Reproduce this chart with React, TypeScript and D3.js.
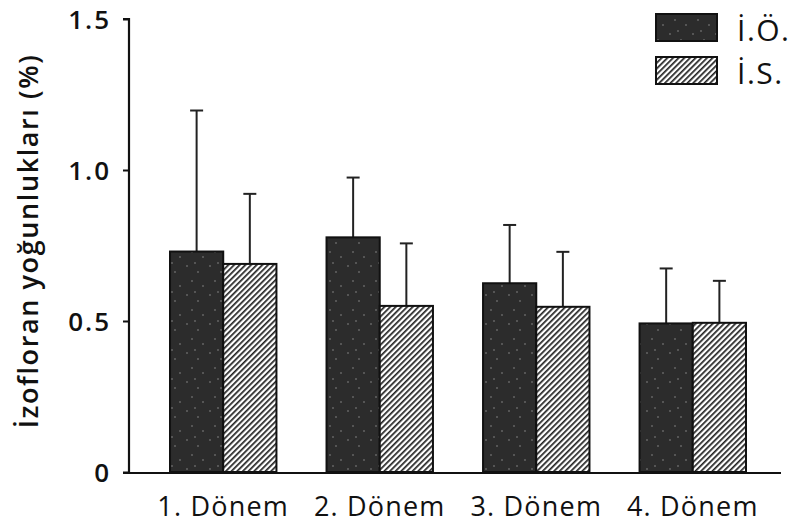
import { axisLeft, scaleBand, scaleLinear, select } from "d3";
import { useEffect, useRef } from "react";

const periods = ["1. Dönem", "2. Dönem", "3. Dönem", "4. Dönem"];
const groups = ["İ.Ö.", "İ.S."];
const ioMeans = [0.73, 0.777, 0.625, 0.492];
const ioSD = [0.467, 0.198, 0.193, 0.182];
const isMeans = [0.689, 0.55, 0.547, 0.494];
const isSD = [0.232, 0.207, 0.182, 0.139];
const yTicks = [0, 0.5, 1.0, 1.5];

function App() {
  const w = 792;
  const h = 527;
  const svgRef = useRef(null);

  useEffect(() => {
    if (!svgRef.current) return;
    const svg = select(svgRef.current);
    svg.selectAll("*").remove();

    const defs = svg.append("defs");
    const hatch = defs
      .append("pattern")
      .attr("id", "hatch")
      .attr("width", 4)
      .attr("height", 4)
      .attr("patternUnits", "userSpaceOnUse")
      .attr("patternTransform", "rotate(45)");
    hatch.append("rect").attr("width", 4).attr("height", 4).attr("fill", "#fff");
    hatch.append("rect").attr("width", 1.7).attr("height", 4).attr("fill", "#222");

    const speck = defs
      .append("pattern")
      .attr("id", "speck")
      .attr("width", 23)
      .attr("height", 29)
      .attr("patternUnits", "userSpaceOnUse");
    speck.append("rect").attr("width", 23).attr("height", 29).attr("fill", "#2c2c2c");
    [[3, 5], [14, 11], [8, 20], [19, 25], [11, 2]].forEach(([cx, cy]) =>
      speck.append("circle").attr("cx", cx).attr("cy", cy).attr("r", 0.8).attr("fill", "#8a8a8a")
    );

    const y = scaleLinear().domain([0, 1.5]).range([472, 19]);
    const x0 = scaleBand().domain(periods).range([129, 787]).paddingInner(0.32).paddingOuter(0.262);
    const x1 = scaleBand().domain(groups).range([0, x0.bandwidth()]);

    const rows = periods.map((p, i) => [
      { p, g: groups[0], v: ioMeans[i], sd: ioSD[i], fill: "url(#speck)" },
      { p, g: groups[1], v: isMeans[i], sd: isSD[i], fill: "url(#hatch)" },
    ]).flat();

    // error bars
    const eb = svg.append("g").attr("stroke", "#222").attr("stroke-width", 2);
    rows.forEach((d) => {
      const cx = x0(d.p) + x1(d.g) + x1.bandwidth() / 2;
      eb.append("line").attr("x1", cx).attr("x2", cx).attr("y1", y(d.v)).attr("y2", y(d.v + d.sd));
      eb.append("line").attr("x1", cx - 6.5).attr("x2", cx + 6.5).attr("y1", y(d.v + d.sd)).attr("y2", y(d.v + d.sd));
    });

    svg
      .append("g")
      .selectAll("rect")
      .data(rows)
      .join("rect")
      .attr("x", (d) => x0(d.p) + x1(d.g))
      .attr("y", (d) => y(d.v))
      .attr("width", x1.bandwidth())
      .attr("height", (d) => y(0) - y(d.v))
      .attr("fill", (d) => d.fill)
      .attr("stroke", "#111")
      .attr("stroke-width", 2);

    // y axis
    const yAxis = axisLeft(y)
      .tickValues(yTicks)
      .tickSize(6)
      .tickPadding(12)
      .tickFormat((d) => (d === 0 ? "0" : d.toFixed(1)));
    const ya = svg.append("g").attr("transform", "translate(129,0)").call(yAxis);
    ya.select(".domain").attr("stroke", "#111").attr("stroke-width", 2.2).attr("d", "M-6,19H0V473");
    ya.selectAll(".tick line").attr("stroke", "#111").attr("stroke-width", 2);
    ya.selectAll(".tick text")
      .attr("fill", "#111")
      .attr("dy", "9.3px")
      .style("font-family", "'Open Sans', sans-serif")
      .style("font-size", "26px")
      .style("letter-spacing", "2px")
      .style("font-weight", 600);

    // x axis line
    svg.append("line").attr("x1", 123).attr("x2", 781).attr("y1", 473).attr("y2", 473)
      .attr("stroke", "#111").attr("stroke-width", 2.2);

    svg
      .append("g")
      .selectAll("text")
      .data(periods)
      .join("text")
      .attr("x", (d) => x0(d) + x0.bandwidth() / 2)
      .attr("y", 516)
      .attr("text-anchor", "middle")
      .style("font-family", "'Open Sans', sans-serif")
      .style("font-size", "27px")
      .style("letter-spacing", "1.2px")
      .attr("fill", "#111")
      .text((d) => d);

    svg
      .append("text")
      .attr("transform", "translate(38,241) rotate(-90)")
      .attr("text-anchor", "middle")
      .style("font-family", "'Open Sans', sans-serif")
      .style("font-size", "27px")
      .style("letter-spacing", "1.6px")
      .style("font-weight", 600)
      .attr("fill", "#111")
      .text("İzofloran yoğunlukları (%)");

    // legend
    const lg = svg.append("g");
    groups.forEach((g, i) => {
      lg.append("rect")
        .attr("x", 656)
        .attr("y", 14 + i * 43)
        .attr("width", 61)
        .attr("height", 27)
        .attr("fill", i === 0 ? "url(#speck)" : "url(#hatch)")
        .attr("stroke", "#111")
        .attr("stroke-width", 2);
      lg.append("text")
        .attr("x", 737)
        .attr("y", 41 + i * 43)
        .style("font-family", "'Open Sans', sans-serif")
        .style("font-size", "30px")
        .style("letter-spacing", "1.5px")
        .attr("fill", "#111")
        .text(g);
    });
  }, [svgRef]);

  return (
    <div>
      <svg ref={svgRef} width={w} height={h} style={{ position: "absolute", left: 0, top: 0 }}></svg>
    </div>
  );
}

export default App;
